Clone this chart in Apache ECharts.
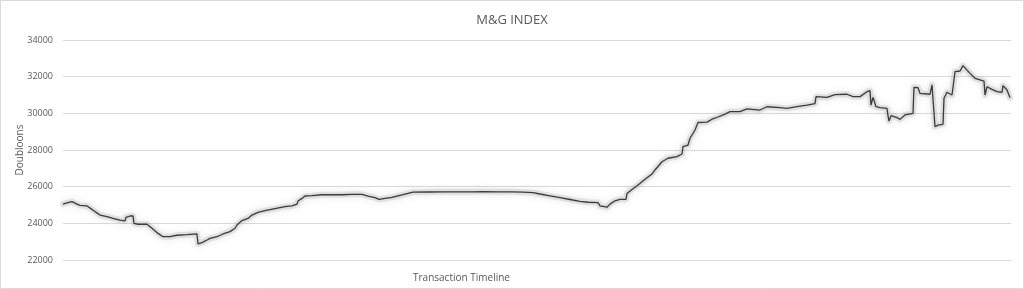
<!DOCTYPE html>
<html>
<head>
<meta charset="utf-8">
<script src="https://cdn.jsdelivr.net/npm/echarts@6/dist/echarts.min.js"></script>
<style>
html,body{margin:0;padding:0;background:#fff;}
#chart{width:1024px;height:289px;}
</style>
</head>
<body>
<div id="chart"></div>
<script>
// Transaction index (sequence position along the timeline)
const transactions = [0,3,9,14,17,24,29,32,37,44,50,57,62,63,67,70,71,75,84,89,95,100,107,114,124,125,134,135,139,144,147,154,160,167,169,172,174,179,185,189,195,202,212,222,229,234,235,239,242,249,259,269,279,289,299,305,312,316,318,322,329,340,350,365,380,395,410,420,435,450,460,470,477,487,497,507,517,525,535,537,544,547,552,557,563,564,569,575,582,589,592,599,605,614,619,620,625,627,629,632,635,644,649,655,662,667,677,684,697,704,717,724,734,744,752,753,764,772,784,790,797,804,807,808,810,812,813,817,824,825,826,828,834,837,842,850,851,855,857,867,869,871,872,875,880,881,884,889,892,897,900,904,907,912,917,921,922,924,929,934,939,940,944,947];
// Index value in doubloons
const indexValues = [25050,25100,25180,25050,24980,24950,24760,24640,24450,24360,24270,24180,24130,24330,24400,24400,24000,23950,23950,23730,23450,23270,23270,23350,23380,23420,23420,22880,22950,23090,23180,23270,23420,23550,23600,23730,23910,24150,24270,24450,24600,24690,24800,24910,24950,25050,25220,25360,25490,25510,25560,25560,25560,25580,25580,25490,25400,25310,25230,25360,25420,25560,25700,25710,25720,25720,25720,25730,25720,25720,25700,25680,25600,25500,25400,25300,25200,25150,25130,24950,24880,25050,25230,25310,25310,25630,25850,26090,26400,26690,26910,27360,27550,27640,27780,28180,28270,28640,28820,29090,29500,29520,29680,29800,29960,30090,30090,30240,30180,30360,30310,30270,30360,30450,30530,30910,30870,31020,31040,30910,30910,31180,31240,30450,30870,30850,30360,30310,30270,29870,29580,29870,29770,29670,29910,30000,31420,31400,31090,31040,31550,31510,29270,29360,29400,30820,31150,31000,32270,32310,32600,32360,32180,31910,31820,31760,31000,31450,31310,31180,31150,31510,31270,30850];
const yTicks = {min: 22000, max: 34000, step: 2000};
const titleText = 'M&G INDEX';
const yName = 'Doubloons';
const xName = 'Transaction Timeline';

const seriesData = transactions.map((t, i) => [t, indexValues[i]]);
const chart = echarts.init(document.getElementById('chart'), null, {renderer: 'canvas'});
const textFont = "'Open Sans', 'Noto Sans', sans-serif";
chart.setOption({
  animation: false,
  backgroundColor: '#ffffff',
  title: {
    text: titleText, left: 'center', top: 9,
    textStyle: {color: '#595959', fontSize: 13, fontWeight: 'normal', fontFamily: textFont}
  },
  grid: {left: 63, right: 13, top: 40, bottom: 29},
  xAxis: {
    type: 'value', min: 0, max: 948,
    axisLine: {show: true, lineStyle: {color: '#d9d9d9'}},
    axisTick: {show: false}, axisLabel: {show: false}, splitLine: {show: false}
  },
  yAxis: {
    type: 'value', min: yTicks.min, max: yTicks.max, interval: yTicks.step,
    name: yName, nameLocation: 'middle', nameGap: 43, nameRotate: 90, nameMoveOverlap: false,
    nameTextStyle: {color: '#595959', fontSize: 10, fontFamily: textFont, verticalAlign: 'middle'},
    axisLine: {show: false}, axisTick: {show: false},
    axisLabel: {color: '#595959', fontSize: 9, margin: 10, fontFamily: textFont, formatter: v => String(v)},
    splitLine: {lineStyle: {color: '#d9d9d9', width: 1}}
  },
  graphic: [
    {type: 'rect', shape: {x: 0.5, y: 0.5, width: 1023, height: 288}, style: {fill: 'none', stroke: '#d9d9d9', lineWidth: 1}, silent: true},
    {type: 'text', left: 413, top: 273, style: {text: xName, fill: '#595959', fontSize: 10, fontFamily: textFont}}
  ],
  series: [
    {
      type: 'line', data: seriesData, showSymbol: false, symbol: 'none', silent: true, z: 1,
      lineStyle: {color: 'rgba(170,170,170,0.28)', width: 6, shadowColor: 'rgba(130,130,130,0.55)', shadowBlur: 7, join: 'round', cap: 'round'}
    },
    {
      type: 'line', data: seriesData, showSymbol: false, symbol: 'none', z: 2,
      lineStyle: {color: '#3a3a3a', width: 1.3}
    }
  ]
});
</script>
</body>
</html>
